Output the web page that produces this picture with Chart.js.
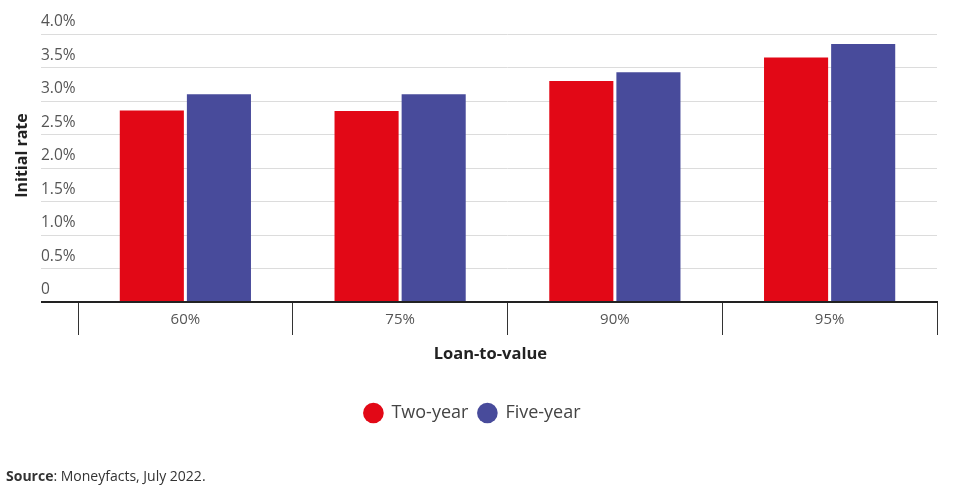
<!DOCTYPE html>
<html>
<head>
<meta charset="utf-8">
<script src="https://cdn.jsdelivr.net/npm/chart.js@4"></script>
<style>
  body { margin: 0; background: #fff; }
  .wrap { position: relative; width: 957px; height: 492px; }
  .source { position: absolute; left: 6px; top: 466px; font-family: "Open Sans", sans-serif; font-size: 14px; line-height: 20px; color: #333; }
</style>
</head>
<body>
<div class="wrap">
  <canvas id="chart_Rates" width="957" height="492"></canvas>
  <div class="source"><b>Source</b>: Moneyfacts, July 2022.</div>
</div>
<script>
  // loan-to-value bands and average initial rates (%)
  const categories = ['60%', '75%', '90%', '95%'];
  const twoYear = [2.86, 2.85, 3.30, 3.65];
  const fiveYear = [3.10, 3.10, 3.43, 3.85];
  const yMax = 4;
  const yStep = 0.5;

  const red = 'rgb(226, 8, 22)';
  const blue = 'rgb(72, 75, 155)';

  Chart.defaults.font.family = "'Open Sans', sans-serif";

  const ctx = document.getElementById('chart_Rates');

  new Chart(ctx, {
    type: 'bar',
    data: {
      labels: categories,
      datasets: [
        {
          label: 'Two-year',
          data: twoYear,
          backgroundColor: red,
          borderWidth: 0,
          categoryPercentage: 0.625,
          barPercentage: 0.955,
        },
        {
          label: 'Five-year',
          data: fiveYear,
          backgroundColor: blue,
          borderWidth: 0,
          categoryPercentage: 0.625,
          barPercentage: 0.955,
        },
      ]
    },
    options: {
      responsive: false,
      animation: false,
      layout: {
        padding: { left: 8, right: 20, top: 34, bottom: 60 }
      },
      scales: {
        x: {
          z: 1,
          grid: {
            offset: true,
            drawOnChartArea: false,
            drawTicks: true,
            tickLength: 33,
            tickColor: '#333',
            lineWidth: 1,
          },
          border: {
            display: true,
            color: '#222',
            width: 2,
          },
          ticks: {
            padding: -24,
            color: '#555',
            font: { size: 15 },
          },
          title: {
            display: true,
            // trailing spaces nudge the title left, as in the original
            text: 'Loan-to-value        ',
            color: '#222',
            font: { size: 16.5, weight: 'bold' },
            padding: { top: 0, bottom: 30 },
          },
          afterFit: (scale) => { scale.height = 92; },
        },
        y: {
          min: 0,
          max: yMax,
          grid: {
            color: (c) => (c.tick && c.tick.value === 0 ? '#222' : '#dcdcdc'),
            tickColor: (c) => (c.tick && c.tick.value === 0 ? '#222' : '#dcdcdc'),
            lineWidth: (c) => (c.tick && c.tick.value === 0 ? 2 : 1),
            tickLength: 37,
          },
          border: { display: false },
          ticks: {
            stepSize: yStep,
            mirror: true,
            padding: -37,
            labelOffset: -12,
            color: '#555',
            font: { size: 15.5 },
            callback: (v) => (v === 0 ? '0' : v.toFixed(1) + '%'),
          },
          title: {
            display: true,
            text: '      Initial rate',
            color: '#222',
            font: { size: 16, weight: 'bold' },
            padding: { top: 5, bottom: 0 },
          },
          afterFit: (scale) => { scale.width = 70; },
        }
      },
      plugins: {
        tooltip: { enabled: false },
        legend: {
          display: true,
          position: 'bottom',
          align: 'center',
          labels: {
            usePointStyle: true,
            pointStyle: 'circle',
            boxWidth: 20,
            boxHeight: 14.6,
            padding: 10,
            color: '#444',
            font: { size: 18 },
          }
        }
      }
    }
  });
</script>
</body>
</html>
